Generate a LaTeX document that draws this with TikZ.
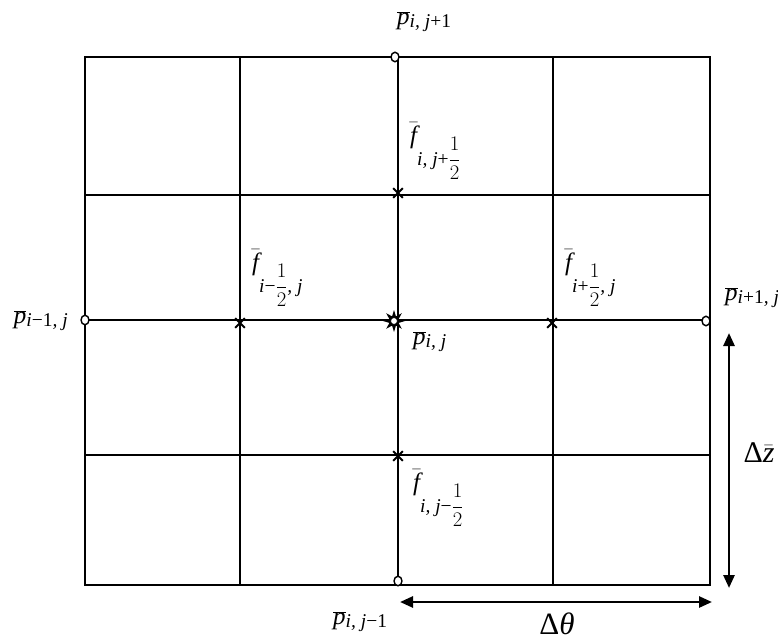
\documentclass[tikz,border=0pt]{standalone}
\usepackage{fontspec}
\setmainfont{Liberation Serif}
\usetikzlibrary{arrows.meta,shapes.geometric,shapes.misc}
\newcommand\mi[1]{\mathit{#1}}
\newcommand\gD{\mbox{Δ}}
\newcommand\gth{\mbox{\itshape θ}}
\newcommand\Lp{{\fontsize{25}{27}\selectfont$\overline{\mi p}$}}
\newcommand\Lf{{\fontsize{25}{27}\selectfont$\bar{\mi f}$}}
\newcommand\psub[1]{\raisebox{-3pt}{\fontsize{19.5}{21}\selectfont #1}}
\newcommand\fsub[1]{\raisebox{-22pt}{\fontsize{19.5}{21}\selectfont #1}}
\newcommand\hf{$\displaystyle\frac{1}{2}$}
\begin{document}
\begin{tikzpicture}[x=1pt,y=-1pt,
  gridline/.style={line width=1.5pt},
  lbl/.style={inner sep=0pt},
  omark/.style={ellipse,draw,line width=1.4pt,minimum width=8pt,minimum height=9.5pt,inner sep=0pt,fill=white},
  xmark/.style={cross out,draw,line width=2.1pt,minimum size=7.5pt,inner sep=0pt},
  dimarrow/.style={line width=2.6pt,{Triangle[length=13pt,width=11pt]}-{Triangle[length=13pt,width=11pt]}}
]
\useasboundingbox (0,0) rectangle (778,636);
% grid
\draw[gridline] (85,57) rectangle (710,585);
\foreach \x in {240,398,553} \draw[gridline] (\x,57) -- (\x,585);
\foreach \y in {195,320,455} \draw[gridline] (85,\y) -- (710,\y);
% circle markers
\node[omark] (oT) at (395,57) {};
\node[omark] (oL) at (85,320) {};
\node[omark] (oR) at (706,321) {};
\node[omark] (oB) at (398,581) {};
% cross markers
\node[xmark] (xT) at (398,193) {};
\node[xmark] (xL) at (240,323) {};
\node[xmark] (xR) at (552,323) {};
\node[xmark] (xB) at (398,456) {};
% star
\node[star,star points=8,star point ratio=2.2,minimum size=22pt,inner sep=0pt,fill=black] (st) at (394,321) {};
\node[circle,fill=white,draw,line width=0.8pt,minimum size=7pt,inner sep=0pt] (stc) at (394,321) {};
% labels
\node[lbl,anchor=north west] (lpT) at (397,11) {\Lp\psub{\itshape i, j\/\upshape+1}};
\node[lbl,anchor=north west] (lfT) at (410,122) {\Lf\fsub{\itshape i, j\/\upshape+\hf}};
\node[lbl,anchor=north west] (lfL) at (252,249) {\Lf\fsub{\itshape i\/\upshape−\hf\itshape, j}};
\node[lbl,anchor=north west] (lfR) at (565,249) {\Lf\fsub{\itshape i\/\upshape+\hf\itshape, j}};
\node[lbl,anchor=north west] (lpC) at (413,331) {\Lp\psub{\itshape i, j}};
\node[lbl,anchor=north west] (lpR) at (725,287) {\Lp\psub{\itshape i\/\upshape+1\itshape, j}};
\node[lbl,anchor=north east] (lpL) at (68,310) {\Lp\psub{\itshape i\/\upshape−1\itshape, j}};
\node[lbl,anchor=north west] (lfB) at (413,469) {\Lf\fsub{\itshape i, j\/\upshape−\hf}};
\node[lbl,anchor=north west] (lpB) at (333,611) {\Lp\psub{\itshape i, j\/\upshape−1}};
% dimension arrows
\coordinate (h1) at (400,602);
\coordinate (h2) at (712,602);
\coordinate (v1) at (729,333);
\coordinate (v2) at (729,588);
\draw[dimarrow] (h1) -- (h2);
\draw[dimarrow] (v1) -- (v2);
\node[font=\fontsize{31}{34}\selectfont,inner sep=0pt] (dth) at (557,624) {\gD\gth};
\node[font=\fontsize{30}{34}\selectfont,inner sep=0pt] (dz) at (759,453) {$\gD\bar{\mi z}$};
\end{tikzpicture}
\end{document}
